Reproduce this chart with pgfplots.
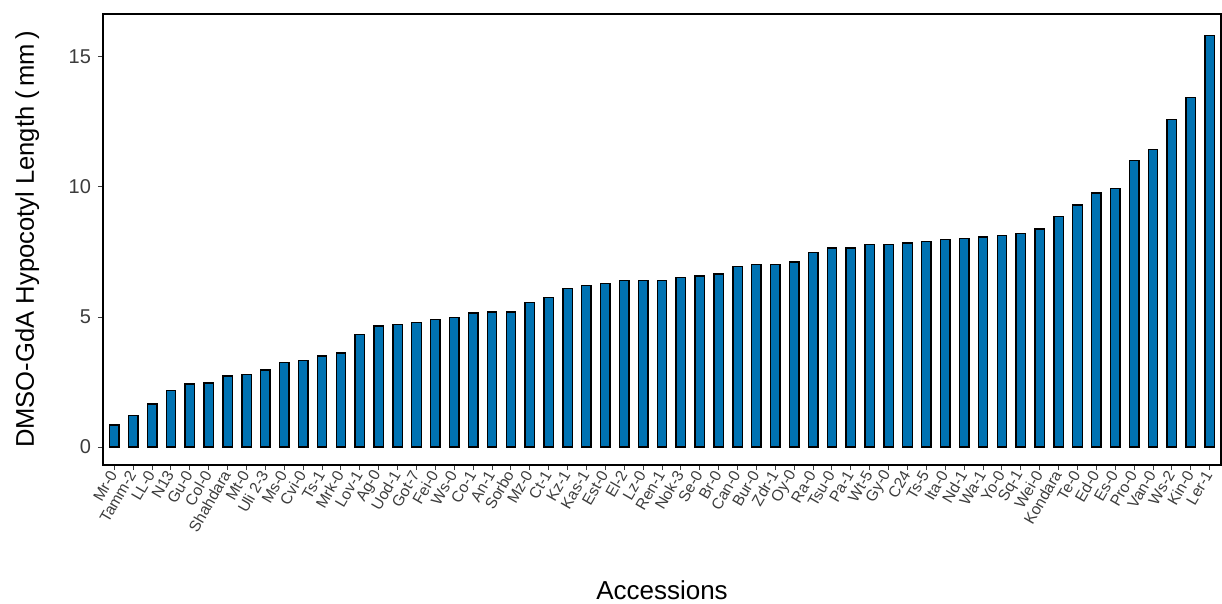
\documentclass[border=0pt]{standalone}
\usepackage{pgfplots}
\pgfplotsset{compat=1.18}
\usepackage{pgfplotstable}
\usepackage{fontspec}
\setmainfont{Liberation Sans}
\definecolor{barblue}{RGB}{0,114,178}
\definecolor{tickgray}{RGB}{60,60,60}
\pgfplotstableread{
x y
1 0.85
2 1.22
3 1.65
4 2.18
5 2.42
6 2.47
7 2.73
8 2.78
9 2.96
10 3.26
11 3.32
12 3.50
13 3.62
14 4.33
15 4.66
16 4.72
17 4.79
18 4.90
19 4.97
20 5.15
21 5.20
22 5.20
23 5.56
24 5.74
25 6.10
26 6.22
27 6.29
28 6.40
29 6.40
30 6.40
31 6.53
32 6.58
33 6.65
34 6.94
35 7.02
36 7.02
37 7.12
38 7.48
39 7.66
40 7.66
41 7.79
42 7.79
43 7.85
44 7.90
45 7.97
46 8.02
47 8.08
48 8.13
49 8.21
50 8.39
51 8.87
52 9.30
53 9.76
54 9.94
55 11.02
56 11.45
57 12.60
58 13.43
59 15.83
}\datatable
\begin{document}
\begin{tikzpicture}
\begin{axis}[
  scale only axis,
  width=559pt, height=225.5pt,
  xmin=0.4, xmax=59.6,
  ymin=-0.69, ymax=16.65,
  ybar,
  bar width=0.5,
  axis line style={black, line width=0.8pt},
  tick align=outside,
  major tick length=2.5pt,
  tick style={tickgray, line width=0.5pt},
  xtick=data,
  xticklabels={Mr-0,Tamm-2,LL-0,N13,Gu-0,Col-0,Shahdara,Mt-0,Uli 2-3,Ms-0,Cvi-0,Ts-1,Mrk-0,Lov-1,Ag-0,Uod-1,Got-7,Fei-0,Ws-0,Co-1,An-1,Sorbo,Mz-0,Ct-1,Kz-1,Kas-1,Est-0,El-2,Lz-0,Ren-1,Nok-3,Se-0,Br-0,Can-0,Bur-0,Zdr-1,Oy-0,Ra-0,Tsu-0,Pa-1,Wt-5,Gy-0,C24,Ts-5,Ita-0,Nd-1,Wa-1,Yo-0,Sq-1,Wei-0,Kondara,Te-0,Ed-0,Es-0,Pro-0,Van-0,Ws-2,Kin-0,Ler-1},
  xticklabel style={rotate=60, anchor=east, font=\fontsize{7.8}{9}\selectfont, text=tickgray, inner sep=1pt},
  ytick={0,5,10,15},
  yticklabel style={font=\fontsize{10}{12}\selectfont, text=tickgray},
  /pgf/number format/assume math mode=true,
  xtick pos=bottom, ytick pos=left,
  xlabel={Accessions},
  ylabel={DMSO-GdA Hypocotyl Length (\,mm\,)},
  xlabel style={at={(axis description cs:0.5,-0.2993)}, anchor=base, font=\fontsize{13}{15}\selectfont, inner sep=0pt},
  ylabel style={at={(axis description cs:-0.0787,0.5)}, anchor=north, rotate=0, font=\fontsize{12.8}{15}\selectfont, inner sep=0pt},
]
\addplot[fill=barblue, draw=black, line width=0.7pt] table[x=x, y=y] {\datatable};
\coordinate (sw) at (rel axis cs:0,0);
\coordinate (ne) at (rel axis cs:1,1);
\end{axis}
\pgfresetboundingbox
\path ([shift={(-51.5pt,-69.5pt)}]sw) rectangle ([shift={(0.5pt,7pt)}]ne);
\end{tikzpicture}
\end{document}
